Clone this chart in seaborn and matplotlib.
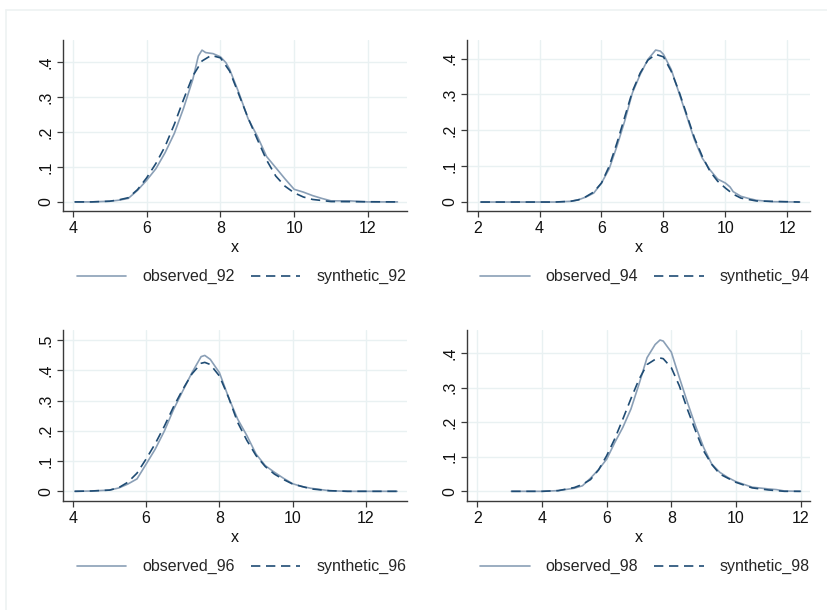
import matplotlib
matplotlib.use("Agg")
import matplotlib.pyplot as plt
from matplotlib.lines import Line2D
from matplotlib.ticker import FuncFormatter
import numpy as np
import pandas as pd
import seaborn as sns

# ---- kernel density curves, observed vs synthetic, for each wave ----
waves = ["92", "94", "96", "98"]

x_obs_92 = [4.05, 4.5, 5.0, 5.25, 5.5, 5.75, 6.0, 6.25, 6.5, 6.75, 7.0, 7.25, 7.4, 7.5, 7.6,
            7.8, 8.0, 8.15, 8.25, 8.5, 8.75, 9.0, 9.25, 9.5, 9.75, 10.0, 10.25, 10.5, 10.75,
            11.0, 11.5, 12.0, 12.8]
y_obs_92 = [0.0, 0.0, 0.002, 0.005, 0.010, 0.033, 0.062, 0.095, 0.141, 0.196, 0.268, 0.350,
            0.417, 0.434, 0.427, 0.424, 0.415, 0.398, 0.379, 0.312, 0.238, 0.188, 0.130, 0.098,
            0.066, 0.036, 0.028, 0.018, 0.010, 0.003, 0.003, 0.0, 0.0]
x_syn_92 = [4.05, 4.5, 5.0, 5.25, 5.5, 5.75, 6.0, 6.25, 6.5, 6.75, 7.0, 7.25, 7.5, 7.75, 8.0,
            8.25, 8.5, 8.75, 9.0, 9.25, 9.5, 9.75, 10.0, 10.25, 10.5, 11.0, 12.8]
y_syn_92 = [0.0, 0.0, 0.002, 0.006, 0.012, 0.035, 0.069, 0.110, 0.159, 0.222, 0.293, 0.360,
            0.403, 0.419, 0.412, 0.374, 0.307, 0.240, 0.179, 0.120, 0.074, 0.045, 0.026,
            0.014, 0.007, 0.001, 0.0]

x_obs_94 = [2.1, 4.5, 5.0, 5.25, 5.5, 5.75, 6.0, 6.25, 6.5, 6.75, 7.0, 7.25, 7.5, 7.75, 7.9,
            8.0, 8.25, 8.5, 8.75, 9.0, 9.25, 9.5, 9.75, 10.0, 10.15, 10.25, 10.5, 10.75, 11.0,
            11.5, 12.4]
y_obs_94 = [0.0, 0.0, 0.002, 0.006, 0.014, 0.025, 0.053, 0.093, 0.156, 0.226, 0.305, 0.356,
            0.398, 0.424, 0.421, 0.412, 0.370, 0.305, 0.240, 0.174, 0.123, 0.090, 0.064, 0.053,
            0.042, 0.029, 0.016, 0.010, 0.005, 0.001, 0.0]
x_syn_94 = [2.1, 4.5, 5.0, 5.25, 5.5, 5.75, 6.0, 6.25, 6.5, 6.75, 7.0, 7.25, 7.5, 7.75, 8.0,
            8.25, 8.5, 8.75, 9.0, 9.25, 9.5, 9.75, 10.0, 10.25, 10.5, 11.0, 12.4]
y_syn_94 = [0.0, 0.0, 0.002, 0.006, 0.015, 0.028, 0.053, 0.100, 0.165, 0.237, 0.309, 0.360,
            0.396, 0.412, 0.405, 0.365, 0.309, 0.244, 0.179, 0.128, 0.086, 0.058, 0.039,
            0.022, 0.011, 0.003, 0.0]

x_obs_96 = [4.05, 4.5, 5.0, 5.25, 5.5, 5.75, 6.0, 6.25, 6.5, 6.75, 7.0, 7.25, 7.5, 7.6, 7.75,
            8.0, 8.25, 8.5, 8.75, 9.0, 9.25, 9.5, 9.75, 10.0, 10.25, 10.5, 11.0, 11.5, 12.85]
y_obs_96 = [0.0, 0.001, 0.004, 0.011, 0.024, 0.041, 0.090, 0.140, 0.200, 0.271, 0.332, 0.392,
            0.445, 0.449, 0.436, 0.392, 0.310, 0.238, 0.184, 0.123, 0.085, 0.063, 0.043, 0.025,
            0.016, 0.010, 0.002, 0.0, 0.0]
x_syn_96 = [4.05, 4.5, 5.0, 5.25, 5.5, 5.75, 6.0, 6.25, 6.5, 6.75, 7.0, 7.25, 7.5, 7.6, 7.75,
            8.0, 8.25, 8.5, 8.75, 9.0, 9.25, 9.5, 9.75, 10.0, 10.5, 11.0, 11.5, 12.85]
y_syn_96 = [0.0, 0.001, 0.004, 0.012, 0.030, 0.060, 0.107, 0.158, 0.216, 0.280, 0.337, 0.388,
            0.423, 0.426, 0.419, 0.381, 0.310, 0.227, 0.168, 0.118, 0.082, 0.057, 0.039,
            0.024, 0.008, 0.002, 0.0, 0.0]

x_obs_98 = [3.05, 4.0, 4.5, 5.0, 5.25, 5.5, 5.75, 6.0, 6.25, 6.5, 6.75, 7.0, 7.25, 7.5, 7.65,
            7.75, 8.0, 8.25, 8.5, 8.75, 9.0, 9.25, 9.5, 9.75, 10.0, 10.5, 11.0, 11.25, 11.5, 12.0]
y_obs_98 = [0.0, 0.0, 0.002, 0.009, 0.016, 0.038, 0.063, 0.093, 0.141, 0.185, 0.238, 0.310,
            0.387, 0.425, 0.438, 0.435, 0.403, 0.329, 0.257, 0.189, 0.127, 0.079, 0.055, 0.040,
            0.028, 0.012, 0.007, 0.005, 0.001, 0.0]
x_syn_98 = [3.05, 4.0, 4.5, 5.0, 5.25, 5.5, 5.75, 6.0, 6.25, 6.5, 6.75, 7.0, 7.25, 7.5, 7.65,
            7.75, 8.0, 8.25, 8.5, 8.75, 9.0, 9.25, 9.5, 10.0, 10.5, 11.0, 11.5, 12.0]
y_syn_98 = [0.0, 0.0, 0.002, 0.011, 0.020, 0.034, 0.062, 0.103, 0.152, 0.209, 0.268, 0.324,
            0.367, 0.382, 0.386, 0.384, 0.358, 0.305, 0.237, 0.175, 0.117, 0.078, 0.050,
            0.026, 0.010, 0.004, 0.0, 0.0]

curves = {
    "92": (x_obs_92, y_obs_92, x_syn_92, y_syn_92),
    "94": (x_obs_94, y_obs_94, x_syn_94, y_syn_94),
    "96": (x_obs_96, y_obs_96, x_syn_96, y_syn_96),
    "98": (x_obs_98, y_obs_98, x_syn_98, y_syn_98),
}

x_ticks = {"92": [4, 6, 8, 10, 12], "94": [2, 4, 6, 8, 10, 12],
           "96": [4, 6, 8, 10, 12], "98": [2, 4, 6, 8, 10, 12]}
y_ticks = {"92": [0, .1, .2, .3, .4], "94": [0, .1, .2, .3, .4],
           "96": [0, .1, .2, .3, .4, .5], "98": [0, .1, .2, .3, .4]}
x_lims = {"92": (3.73, 13.06), "94": (1.66, 12.73), "96": (3.73, 13.12), "98": (1.68, 12.29)}
y_lims = {"92": (-0.026, 0.463), "94": (-0.025, 0.452), "96": (-0.032, 0.533), "98": (-0.028, 0.467)}

# ---- styling ----
sns.set_theme(style="white")
plt.rcParams["font.family"] = ["Liberation Sans", "DejaVu Sans"]
OBS_COLOR = "#8a9fb6"
SYN_COLOR = "#1f4c74"
GRID_COLOR = "#e9f1f2"
AXIS_COLOR = "#3a3a3a"
FS = 11.5
DASH = (5.6, 3.4)

W, H = 827, 610
fig = plt.figure(figsize=(W / 100, H / 100), dpi=100)

# light frame around the combined graph
fig.add_artist(Line2D([6 / W, 6 / W], [0, 1 - 10 / H], transform=fig.transFigure,
                      color="#eef2f2", lw=1.2))
fig.add_artist(Line2D([6 / W, 1], [1 - 10 / H, 1 - 10 / H], transform=fig.transFigure,
                      color="#eef2f2", lw=1.2))

boxes = {"92": (63, 40, 407, 211), "94": (467, 40, 810, 211),
         "96": (63, 330, 407, 501), "98": (467, 330, 810, 501)}


def ylab(v, _):
    if abs(v) < 1e-9:
        return "0"
    return f"{v:.1f}".lstrip("0")


for w in waves:
    l, t, r, b = boxes[w]
    ax = fig.add_axes([l / W, 1 - b / H, (r - l) / W, (b - t) / H])
    xo, yo, xs, ys = curves[w]
    df = pd.concat([
        pd.DataFrame({"x": xo, "density": yo, "series": f"observed_{w}"}),
        pd.DataFrame({"x": xs, "density": ys, "series": f"synthetic_{w}"}),
    ], ignore_index=True)
    sns.lineplot(data=df, x="x", y="density", hue="series", style="series",
                 palette={f"observed_{w}": OBS_COLOR, f"synthetic_{w}": SYN_COLOR},
                 dashes={f"observed_{w}": "", f"synthetic_{w}": DASH},
                 estimator=None, sort=True, ax=ax, legend=False)
    for ln in ax.get_lines():
        ln.set_linewidth(1.2)
        ln.set_solid_joinstyle("round")
    ax.set_xlim(*x_lims[w])
    ax.set_ylim(*y_lims[w])
    ax.set_xticks(x_ticks[w])
    ax.set_yticks(y_ticks[w])
    ax.yaxis.set_major_formatter(FuncFormatter(ylab))
    ax.set_axisbelow(True)
    ax.grid(True, color=GRID_COLOR, lw=1.0)
    for s in ("top", "right"):
        ax.spines[s].set_visible(False)
    for s in ("left", "bottom"):
        ax.spines[s].set_color(AXIS_COLOR)
        ax.spines[s].set_linewidth(1.0)
    ax.tick_params(axis="both", which="major", length=4, width=0.9, color=AXIS_COLOR,
                   labelsize=FS, labelcolor="#111111", pad=3)
    ax.tick_params(axis="x", bottom=True)
    ax.tick_params(axis="y", left=True)
    for lab in ax.get_yticklabels():
        lab.set_rotation(90)
        lab.set_va("center")
    ax.set_xlabel("x", fontsize=FS, color="#111111", labelpad=3)
    ax.set_ylabel("")

    handles = [Line2D([], [], color=OBS_COLOR, lw=1.2),
               Line2D([], [], color=SYN_COLOR, lw=1.2, dashes=DASH)]
    ax.legend(handles, [f"observed_{w}", f"synthetic_{w}"], ncol=2, frameon=False,
              loc="center", bbox_to_anchor=(0.519, -0.385), fontsize=FS,
              handlelength=3.1, handletextpad=1.0, columnspacing=1.0)

fig.savefig("out.png", dpi=100, facecolor="white")
